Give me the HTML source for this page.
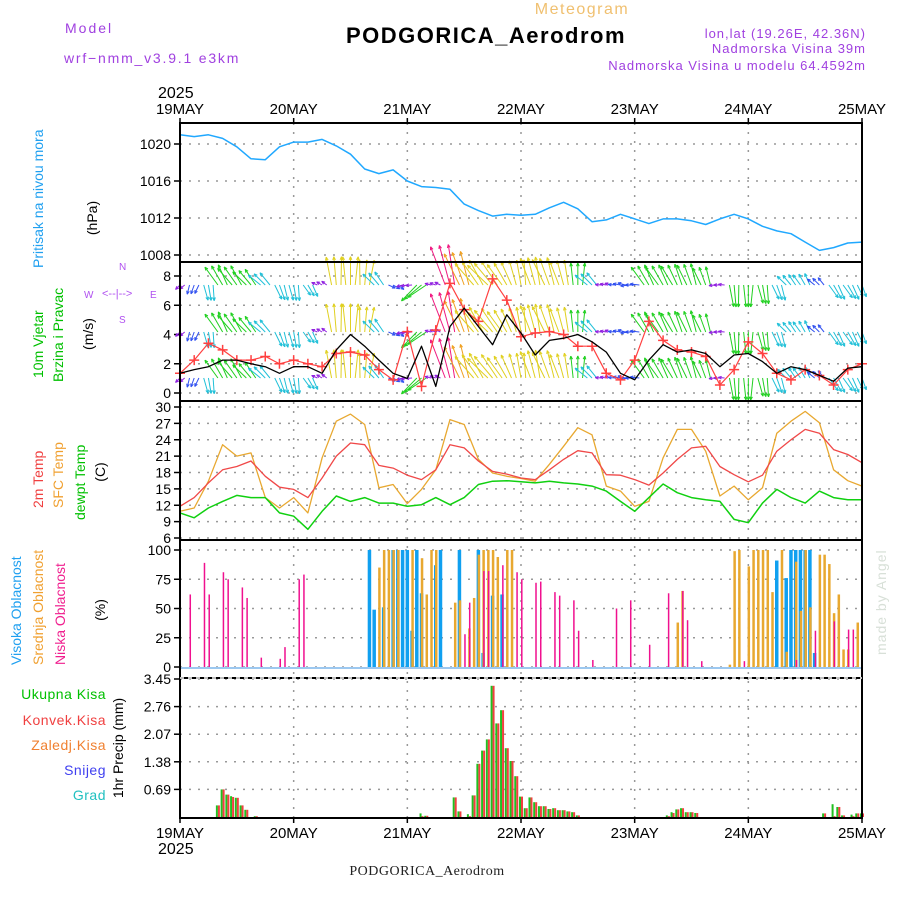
<!DOCTYPE html>
<html><head><meta charset="utf-8"><style>
html,body{margin:0;padding:0;background:#fff;}
svg{display:block;font-family:"Liberation Sans",sans-serif;}
</style></head><body>
<svg id="chart" width="900" height="900" viewBox="0 0 900 900">
<g id="static">
 <text x="65" y="33" font-size="14" fill="#a040e0" letter-spacing="2">Model</text>
 <text x="64" y="63" font-size="14" fill="#a040e0" letter-spacing="1.8">wrf−nmm_v3.9.1 e3km</text>
 <text x="582" y="14" font-size="16" fill="#f0c070" text-anchor="middle" letter-spacing="1.5">Meteogram</text>
 <text x="486" y="43" font-size="22" font-weight="bold" fill="#000" text-anchor="middle" letter-spacing="1.5">PODGORICA_Aerodrom</text>
 <text x="866" y="38" font-size="13" fill="#a040e0" text-anchor="end" letter-spacing="1">lon,lat (19.26E, 42.36N)</text>
 <text x="866" y="53" font-size="13" fill="#a040e0" text-anchor="end" letter-spacing="1">Nadmorska Visina 39m</text>
 <text x="866" y="70" font-size="13" fill="#a040e0" text-anchor="end" letter-spacing="1">Nadmorska Visina u modelu 64.4592m</text>
 <text x="158" y="98" font-size="16" fill="#000">2025</text>
 <text x="158" y="854" font-size="16" fill="#000">2025</text>
 <text x="427" y="875" font-size="14" fill="#222" text-anchor="middle" font-family="Liberation Serif,serif" letter-spacing="0.5">PODGORICA_Aerodrom</text>
 <text transform="translate(886,655) rotate(-90)" font-size="14" fill="#d8e0d8" letter-spacing="1">made by Angel</text>
 <text transform="translate(43,268) rotate(-90)" font-size="14" fill="#20a0f0">Pritisak na nivou mora</text>
 <text transform="translate(97,218) rotate(-90)" font-size="14" fill="#000" text-anchor="middle">(hPa)</text>
 <text transform="translate(43,378) rotate(-90)" font-size="14" fill="#00c000">10m Vjetar</text>
 <text transform="translate(63,382) rotate(-90)" font-size="14" fill="#00c000">Brzina i Pravac</text>
 <text transform="translate(93,334) rotate(-90)" font-size="14" fill="#000" text-anchor="middle">(m/s)</text>
 <g fill="#b050f0" font-size="10">
  <text x="84" y="298">W</text><text x="150" y="298">E</text><text x="119" y="270">N</text><text x="119" y="323">S</text>
  <text x="102" y="297" font-size="11">&lt;--|--&gt;</text>
 </g>
 <text transform="translate(43,508) rotate(-90)" font-size="14" fill="#f04040">2m Temp</text>
 <text transform="translate(63,508) rotate(-90)" font-size="14" fill="#f0a030">SFC Temp</text>
 <text transform="translate(85,520) rotate(-90)" font-size="14" fill="#00c000">dewpt Temp</text>
 <text transform="translate(105,472) rotate(-90)" font-size="14" fill="#000" text-anchor="middle">(C)</text>
 <text transform="translate(21,665) rotate(-90)" font-size="14" fill="#20a0f0">Visoka Oblacnost</text>
 <text transform="translate(43,665) rotate(-90)" font-size="14" fill="#f0a030">Srednja Oblacnost</text>
 <text transform="translate(65,665) rotate(-90)" font-size="14" fill="#f0208f">Niska Oblacnost</text>
 <text transform="translate(105,610) rotate(-90)" font-size="14" fill="#000" text-anchor="middle">(%)</text>
 <g font-size="14" text-anchor="end" letter-spacing="0.5">
  <text x="106" y="699" fill="#00c000">Ukupna Kisa</text>
  <text x="106" y="725" fill="#f04040">Konvek.Kisa</text>
  <text x="106" y="750" fill="#f08030">Zaledj.Kisa</text>
  <text x="106" y="775" fill="#4040f0">Snijeg</text>
  <text x="106" y="800" fill="#20c0c0">Grad</text>
 </g>
 <text transform="translate(123,748) rotate(-90)" font-size="14" fill="#000" text-anchor="middle">1hr Precip (mm)</text>
</g>
<g id="dyn"></g>
</svg>
<script>
const days = ["19MAY","20MAY","21MAY","22MAY","23MAY","24MAY","25MAY"];
const pressure = [1021.0,1020.8,1021.0,1020.6,1019.7,1018.4,1018.3,1019.7,1020.2,1020.2,1020.5,1019.8,1018.9,1017.3,1016.8,1017.2,1016.0,1015.4,1015.3,1015.1,1013.5,1012.8,1012.2,1012.4,1012.3,1012.4,1013.1,1013.7,1013.0,1011.6,1011.8,1012.4,1011.9,1011.4,1011.9,1011.9,1011.7,1011.3,1011.9,1012.4,1011.9,1011.1,1010.6,1010.3,1009.4,1008.5,1008.8,1009.3,1009.4];
const windSpeed = [1.35,1.6,1.8,2.25,2.25,2.0,1.8,1.35,1.8,1.8,1.35,2.95,4.0,3.2,2.25,1.35,1.0,3.2,0.45,4.55,5.8,4.55,3.3,5.35,4.1,2.6,3.6,3.75,4.0,3.5,2.8,1.35,0.9,2.25,3.3,2.8,2.95,2.7,1.8,2.6,2.7,2.15,1.35,1.8,1.6,1.2,0.8,1.7,1.8];
const windGust = [1.35,2.25,3.4,2.95,2.25,2.25,2.5,2.0,2.25,2.0,1.8,2.7,2.8,2.6,1.6,0.9,4.2,0.45,4.3,7.5,5.7,4.9,7.8,6.35,3.85,4.1,4.2,4.0,3.2,3.2,1.35,0.9,2.25,4.9,3.6,2.95,2.8,2.5,0.55,1.6,3.5,2.7,1.35,0.9,1.6,1.2,0.55,1.6,2.0];
const windDir = [-135,200,170,-30,-35,-40,-45,160,170,150,-60,-5,0,5,-40,120,-100,-130,-70,-15,-20,-35,-40,-30,-10,-15,-20,-15,0,-45,-80,-80,-90,-30,-30,-25,-20,-20,-90,175,180,170,160,-40,-30,-45,150,150,160];
const arrowSpeed = [1,1.5,2.5,3.5,3.5,3,2.5,2.5,2.5,2,1,4.5,4.5,4,2.5,1.2,1,3.5,1,6.5,5.5,4.5,4.5,4,4,4.5,4.5,4,3.5,2.5,1,1.2,1.5,3.5,3.5,3.5,3.5,3,1,3.5,3.5,3,2.5,2,2,1.5,2.5,2.5,2];
const temp2m = [11.8,13.4,16.1,18.5,19.1,20.1,17.3,15.3,14.9,13.4,17.0,21.0,23.4,23.1,19.3,18.8,17.5,16.7,18.5,23.1,22.5,20.1,18.2,17.7,17.0,16.7,18.5,20.4,22.0,21.6,17.6,17.5,16.7,15.7,17.9,20.4,22.5,22.8,19.1,17.6,16.3,17.5,21.9,24.0,25.9,25.2,22.2,21.3,19.8];
const tempSfc = [10.9,11.5,16.4,23.1,21.0,21.6,13.4,11.5,13.4,10.6,20.7,27.4,28.7,26.8,15.2,15.8,12.3,14.9,18.5,27.7,26.8,20.4,17.9,17.3,16.9,16.4,19.5,22.8,26.2,24.9,15.5,14.6,11.8,12.7,20.7,25.9,25.9,21.9,13.7,15.5,13.0,15.2,25.2,27.4,29.2,27.1,18.5,16.5,15.5];
const tempDew = [10.6,9.7,11.5,12.7,13.8,13.4,13.4,10.6,10.0,7.6,10.9,13.7,12.7,13.4,12.4,12.4,11.8,12.1,13.4,12.1,13.4,15.8,16.4,16.5,16.3,16.1,16.4,16.1,15.9,15.5,14.6,12.7,10.9,13.4,15.9,14.3,13.4,13.0,12.7,9.4,8.8,12.4,14.9,13.4,12.4,14.6,13.4,13.0,13.0];
const lowHours = [2,5,6,9,10,13,14,17,21,22,25,26,60,61,64,65,68,71,72,75,76,79,80,83,84,87,92,95,99,103,106,107,110,119,130,134,138,141,142];
const lowValues = [62,89,62,81,75,68,59,8,7,17,75,79,28,55,82,82,87,81,75,72,73,64,61,57,31,6,50,57,19,63,65,40,5,5,6,31,39,32,32];
const midHours = [42,43,44,45,46,49,51,52,53,54,58,59,61,62,63,64,65,66,67,69,70,105,106,116,117,118,120,121,122,123,124,125,127,128,130,131,132,133,135,136,137,138,139,140,141,143];
const midValues = [85,100,100,100,100,100,93,62,100,100,55,57,33,59,96,100,100,100,94,100,100,38,65,2,99,100,86,100,100,100,100,64,100,13,90,48,100,51,96,96,88,46,62,15,15,38];
const highHours = [40,41,43,45,46,47,48,49,50,51,54,55,59,63,64,66,68,126,128,129,130,131,132,133,134];
const highValues = [100,49,51,100,100,100,100,31,100,63,87,100,100,100,12,61,62,91,76,100,100,100,100,100,12];
const precipHours = [8,9,10,11,12,13,14,16,51,52,58,59,61,62,63,64,65,66,67,68,69,70,71,72,73,74,75,76,77,78,79,80,81,82,83,84,103,104,105,106,107,108,109,136,138,139,140,142,143,144];
const precipTotal = [0.29,0.69,0.56,0.52,0.48,0.29,0.18,0.02,0.09,0.03,0.49,0.14,0.07,0.54,1.33,1.66,1.94,3.28,2.34,2.67,1.72,1.40,1.02,0.51,0.22,0.49,0.37,0.27,0.27,0.20,0.22,0.17,0.17,0.14,0.12,0.04,0.04,0.12,0.19,0.22,0.12,0.12,0.10,0.09,0.32,0.25,0.04,0.06,0.09,0.09];
const precipConv = [0.29,0.69,0.56,0.50,0.48,0.29,0.18,0.02,0.02,0.03,0.49,0.14,0.02,0.54,1.33,1.66,1.94,3.28,2.34,2.67,1.72,1.40,1.02,0.51,0.22,0.49,0.37,0.27,0.27,0.20,0.22,0.17,0.17,0.14,0.12,0.04,0.02,0.10,0.19,0.22,0.12,0.12,0.10,0.09,0.02,0.25,0.04,0.02,0.09,0.09];
const pTicks = [1020,1016,1012,1008];
const wTicks = [8,6,4,2,0];
const tTicks = [30,27,24,21,18,15,12,9,6];
const cTicks = [100,75,50,25,0];
const rTicks = ["3.45","2.76","2.07","1.38","0.69"];

const X0=180, X1=862;
const xh = h => X0 + h*(X1-X0)/144;
const xi = i => xh(i*3);
const lin = (d0,d1,r0,r1) => v => r0 + (v-d0)*(r1-r0)/(d1-d0);
const yP = lin(1020,1008,144,255);
const yW = lin(0,8,393,276);
const yT = lin(30,6,407,538);
const yC = lin(0,100,667,550);
const yR = lin(0,3.45,817,679);
const panels = [[123,262],[262,401],[401,540],[540,678],[678,818]];
const NS="http://www.w3.org/2000/svg";
const g = document.getElementById('dyn');
function el(tag, attrs, parent){
  const e=document.createElementNS(NS,tag);
  for(const k in attrs) e.setAttribute(k,attrs[k]);
  (parent||g).appendChild(e); return e;
}
const grid = el('g',{});


function hgrid(vals, yf){
  vals.forEach(v=>{
    const l=el('line',{x1:X0,x2:X1,y1:yf(+v),y2:yf(+v),stroke:'#999','stroke-width':1.5,'stroke-dasharray':'2,7'},grid);
    
    
  });
}
hgrid(pTicks,yP); hgrid(wTicks,yW); hgrid(tTicks,yT); hgrid(cTicks,yC); hgrid(rTicks,yR);
days.forEach((d,k)=>{
  if(k==0||k==6) return;
  const l=el('line',{x1:xh(k*24),x2:xh(k*24),y1:123,y2:818,stroke:'#999','stroke-width':1.5,'stroke-dasharray':'2,7'},grid);
  
  
});
days.forEach((d,k)=>{
  const t=el('text',{x:xh(k*24),y:114,'font-size':15,'text-anchor':'middle',fill:'#000'});
  t.textContent=d;
  
  
  const b=el('text',{x:xh(k*24),y:838,'font-size':15,'text-anchor':'middle',fill:'#000'});
  b.textContent=d;
  
  
});
function ticks(vals, yf, name){
  vals.forEach(v=>{
    const t=el('text',{x:171,y:yf(+v)+5,'font-size':14,'text-anchor':'end',fill:'#000'});
    t.textContent=v;
    
    
    el('line',{x1:174,x2:180,y1:yf(+v),y2:yf(+v),stroke:'#000','stroke-width':1.5});
  });
}
ticks(pTicks,yP,'pressure-tick'); ticks(wTicks,yW,'wind-tick'); ticks(tTicks,yT,'temp-tick'); ticks(cTicks,yC,'cloud-tick'); ticks(rTicks,yR,'precip-tick');

function line(vals, yf, color, w, name){
  const p=el('polyline',{points:vals.map((v,i)=>xi(i).toFixed(1)+','+yf(v).toFixed(1)).join(' '),fill:'none',stroke:color,'stroke-width':w,'stroke-linejoin':'round'});
  
  
  return p;
}
line(pressure,yP,'#20a8ff',1.5,'pressure-line');
function spdColor(s){
  if(s<1.2) return '#9020e0';
  if(s<2) return '#3050f0';
  if(s<3) return '#20c0d8';
  if(s<4) return '#20d020';
  if(s<5) return '#e0d020';
  if(s<6) return '#f0a020';
  return '#f01880';
}
const arrows = el('g',{});


[285,332,378].forEach(by=>{
  windDir.forEach((a,i)=>{
    const s=arrowSpeed[i], L=s*6.3, c=spdColor(s);
    for(let k=-1;k<=1;k++){
      const r=(a+k*6)*Math.PI/180;
      const x0=xi(i)+k*4.7;
      if(x0<X0||x0>X1) continue;
      const x1=x0+L*Math.sin(r), y1=by-L*Math.cos(r);
      const ar=el('line',{x1:x0,y1:by,x2:x1,y2:y1,stroke:c,'stroke-width':1},arrows);
      
      
      const hl=3.5;
      [r+Math.PI-0.4, r+Math.PI+0.4].forEach(q=>{
        el('line',{x1:x1,y1:y1,x2:x1+hl*Math.sin(q),y2:y1-hl*Math.cos(q),stroke:c,'stroke-width':1},arrows);
      });
    }
  });
});
line(windGust,yW,'#ff4040',1.2,'wind-gust-line');
windGust.forEach((v,i)=>{
  const x=xi(i), y=yW(v);
  const c=el('path',{d:`M${x-5},${y}h10M${x},${y-5}v10`,stroke:'#ff4040','stroke-width':1.5});
  
  
});
line(windSpeed,yW,'#000',1.3,'wind-speed-line');
line(tempSfc,yT,'#e8a830',1.3,'sfc-temp-line');
line(temp2m,yT,'#f04848',1.3,'temp-2m-line');
line(tempDew,yT,'#10d010',1.5,'dewpoint-line');
const zl=el('line',{x1:X0,x2:X1,y1:yC(0)+1,y2:yC(0)+1,stroke:'#9cc8f0','stroke-width':2});


function bars(hours, vals, yf, color, w, off, name){
  hours.forEach((h,i)=>{
    const y=yf(vals[i]), y0=yf(0);
    const r=el('rect',{x:xh(h)+off-w/2,y:y,width:w,height:Math.max(0,y0-y),fill:color});
    
    
  });
}
bars(highHours,highValues,yC,'#10a0f0',3.5,0,'high-cloud-bar');
bars(midHours,midValues,yC,'#e8a830',2.5,0.5,'mid-cloud-bar');
bars(lowHours,lowValues,yC,'#f0108f',1.5,0.8,'low-cloud-bar');
bars(precipHours,precipTotal,yR,'#20c020',2,-1,'total-precip-bar');
bars(precipHours,precipConv,yR,'#f04040',2,1,'convective-precip-bar');
panels.forEach(([a,b])=>{
  const r=el('rect',{x:X0,y:a,width:X1-X0,height:b-a,fill:'none',stroke:'#000','stroke-width':2});
  
  
});
const dl=el('line',{x1:X0,x2:X1,y1:678,y2:678,stroke:'#fff','stroke-width':1.5,'stroke-dasharray':'4,4'});


days.forEach((d,k)=>{
  el('line',{x1:xh(k*24),x2:xh(k*24),y1:118,y2:123,stroke:'#000','stroke-width':1.5});
  el('line',{x1:xh(k*24),x2:xh(k*24),y1:818,y2:823,stroke:'#000','stroke-width':1.5});
});
</script>
</body></html>
